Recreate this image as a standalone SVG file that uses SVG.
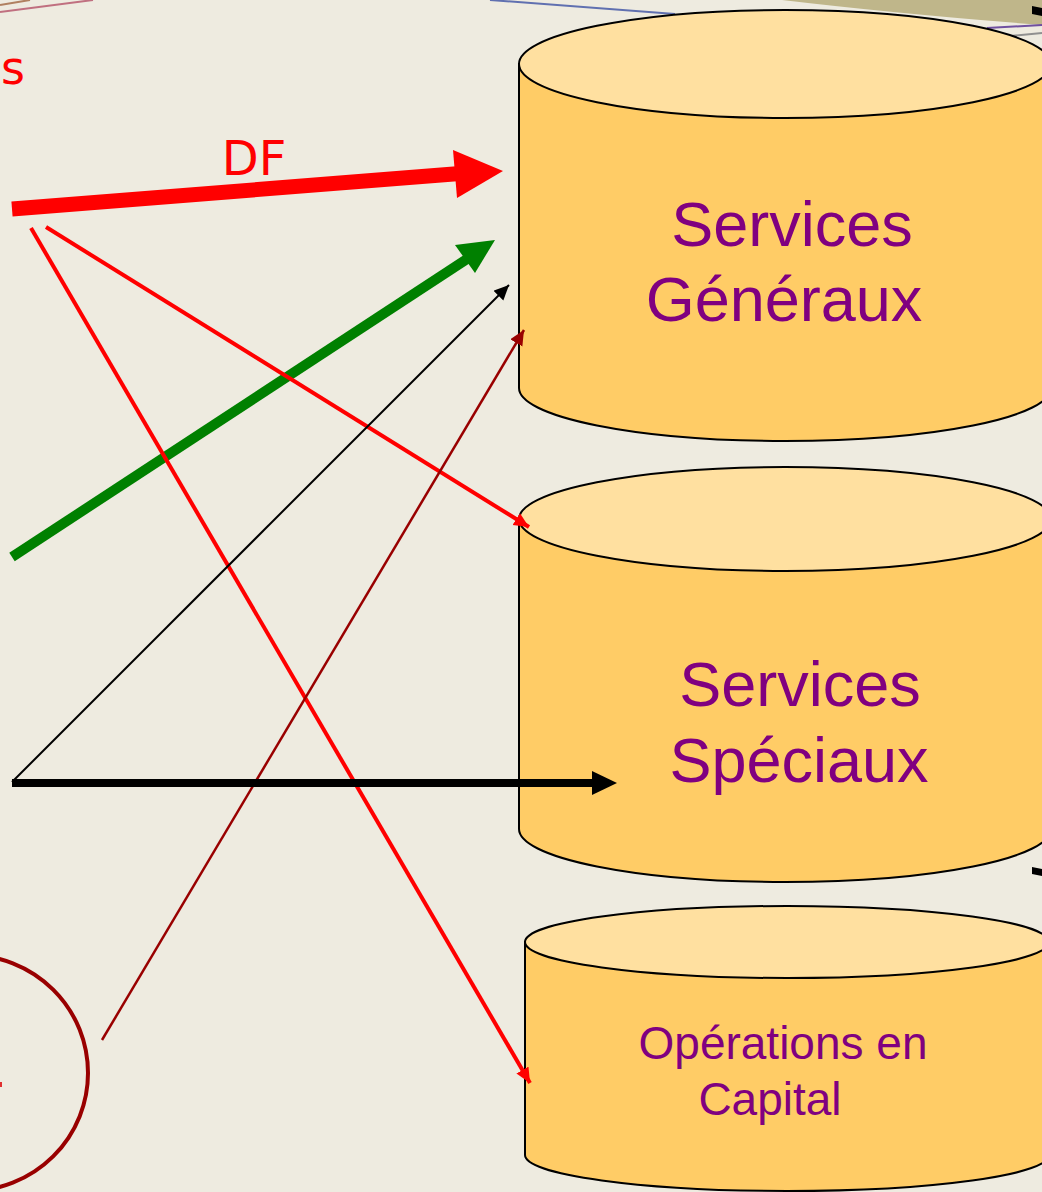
<svg xmlns="http://www.w3.org/2000/svg" width="1042" height="1192" viewBox="0 0 1042 1192">
  <style>
    .body { fill: #FFCC66; stroke: #000; stroke-width: 2; }
    .lid { fill: #FFE0A0; stroke: #000; stroke-width: 2; }
    .label { font-family: "Liberation Sans", Arial, sans-serif; fill: #800080; text-anchor: middle; }
    .hand { font-family: "DejaVu Sans", sans-serif; fill: #FF0000; }
  </style>
  <defs>
    <marker id="headRed" markerUnits="userSpaceOnUse" markerWidth="16" markerHeight="16" refX="15" refY="7" orient="auto">
      <path d="M0,0 L15,7 L0,14 z" fill="#FF0000"/>
    </marker>
    <marker id="headBlack" markerUnits="userSpaceOnUse" markerWidth="16" markerHeight="16" refX="15" refY="7" orient="auto">
      <path d="M0,0 L15,7 L0,14 z" fill="#000"/>
    </marker>
    <marker id="headDark" markerUnits="userSpaceOnUse" markerWidth="16" markerHeight="16" refX="15" refY="7" orient="auto">
      <path d="M0,0 L15,7 L0,14 z" fill="#990000"/>
    </marker>
  </defs>

  <!-- page background -->
  <rect width="1042" height="1192" fill="#EEEBE0"/>

  <!-- decorative edges of the slide frame -->
  <g id="frame">
    <path d="M782,0 L1042,0 L1042,25 Q900,14 782,0 z" fill="#BFB68A"/>
    <polygon points="1032,6 1042,8 1042,16 1032,14" fill="#000"/>
    <polygon points="1032,867 1042,869 1042,876 1032,874" fill="#000"/>
    <line x1="0" y1="5" x2="30" y2="0" stroke="#B08060" stroke-width="2"/>
    <line x1="0" y1="12" x2="93" y2="0" stroke="#C07080" stroke-width="2"/>
    <line x1="490" y1="0" x2="675" y2="14" stroke="#6070B0" stroke-width="2"/>
    <line x1="987" y1="28" x2="1042" y2="25" stroke="#7050A0" stroke-width="2"/>
    <line x1="1010" y1="36" x2="1042" y2="33" stroke="#909090" stroke-width="2"/>
    <rect x="0" y="1082" width="2" height="5" fill="#E03030"/>
  </g>

  <!-- database: Services Généraux -->
  <g id="services-generaux">
    <path class="body" d="M519,64 L519,388 A266,53 0 0 0 1051,388 L1051,64 z"/>
    <ellipse class="lid" cx="785" cy="64" rx="266" ry="54"/>
    <text class="label" x="792" y="246" font-size="63">Services</text>
    <text class="label" x="784" y="321" font-size="63">Généraux</text>
  </g>

  <!-- database: Services Spéciaux -->
  <g id="services-speciaux">
    <path class="body" d="M519,519 L519,829 A266,53 0 0 0 1051,829 L1051,519 z"/>
    <ellipse class="lid" cx="785" cy="519" rx="266" ry="52"/>
    <text class="label" x="800" y="706" font-size="63">Services</text>
    <text class="label" x="799" y="782" font-size="63">Spéciaux</text>
  </g>

  <!-- database: Opérations en Capital -->
  <g id="operations-capital">
    <path class="body" d="M525,942 L525,1155 A262,36 0 0 0 1049,1155 L1049,942 z"/>
    <ellipse class="lid" cx="787" cy="942" rx="262" ry="36"/>
    <text class="label" x="783" y="1059" font-size="46">Opérations en</text>
    <text class="label" x="770" y="1115" font-size="46">Capital</text>
  </g>

  <!-- source-side notes -->
  <g id="notes">
    <text class="hand" x="1" y="84" font-size="46">s</text>
    <text class="hand" x="254" y="175" font-size="48" text-anchor="middle">DF</text>
    <ellipse cx="-31" cy="1073" rx="119" ry="118" fill="none" stroke="#990000" stroke-width="4"/>
  </g>

  <!-- flows -->
  <g id="connectors">
    <!-- DF flow -->
    <line x1="12" y1="209" x2="460" y2="173.5" stroke="#FF0000" stroke-width="15"/>
    <polygon points="503,171 453,150 457,198" fill="#FF0000"/>
    <!-- green flow -->
    <line x1="12" y1="557" x2="467" y2="259" stroke="#008000" stroke-width="10"/>
    <polygon points="495,240 455,245 475,273" fill="#008000"/>
    <!-- thin red flows -->
    <line x1="46" y1="227" x2="529" y2="527" stroke="#FF0000" stroke-width="4" marker-end="url(#headRed)"/>
    <line x1="31" y1="228" x2="530" y2="1083" stroke="#FF0000" stroke-width="4" marker-end="url(#headRed)"/>
    <!-- thin black flow -->
    <line x1="12" y1="782" x2="509" y2="285" stroke="#000" stroke-width="2" marker-end="url(#headBlack)"/>
    <!-- dark red flow -->
    <line x1="102" y1="1040" x2="524" y2="330" stroke="#990000" stroke-width="2.5" marker-end="url(#headDark)"/>
    <!-- horizontal black flow -->
    <line x1="12" y1="783" x2="594" y2="783" stroke="#000" stroke-width="8"/>
    <polygon points="617,783 592,771 592,795" fill="#000"/>
  </g>
</svg>
